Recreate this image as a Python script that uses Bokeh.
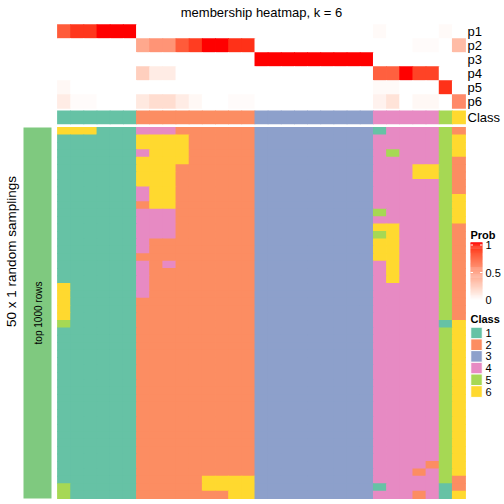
import numpy as np
from bokeh.plotting import figure
from bokeh.models import Range1d, ColumnDataSource, LinearColorMapper
from bokeh.transform import transform
from bokeh.embed import file_html
from bokeh.resources import INLINE
from bokeh.core.properties import value

# ---------------- data ----------------
title = "membership heatmap, k = 6"
prob_names = ["p1", "p2", "p3", "p4", "p5", "p6"]
col_class = [1] * 6 + [2] * 9 + [3] * 9 + [4] * 5 + [5] + [6]

p1 = [0.8, 0.92, 0.92, 1, 1, 1] + [0] * 9 + [0] * 9 + [0.03, 0, 0, 0, 0] + [0.03] + [0]
p2 = [0] * 6 + [0.45, 0.55, 0.55, 0.8, 0.9, 1, 1, 0.93, 0.93] + [0] * 9 + [0, 0, 0, 0.02, 0.02] + [0] + [0.35]
p3 = [0] * 6 + [0] * 9 + [1] * 9 + [0] * 5 + [0] + [0]
p4 = [0] * 6 + [0.25, 0.1, 0.1, 0, 0, 0, 0, 0, 0] + [0] * 9 + [0.78, 0.78, 1, 0.88, 0.88] + [0] + [0]
p5 = [0.04, 0, 0, 0, 0, 0] + [0] * 9 + [0] * 9 + [0.03, 0.03, 0, 0, 0] + [0.93] + [0]
p6 = [0.1, 0.02, 0.02, 0, 0, 0] + [0.12, 0.18, 0.18, 0.1, 0.04, 0, 0, 0.02, 0.02] + [0] * 9 + [0.07, 0.15, 0, 0.04, 0.04] + [0] + [0.6]
probs = [p1, p2, p3, p4, p5, p6]

# 50 random samplings x 31 samples (class label of each cell)
sampling_rows = [
    "666111" "444222222" "333333333" "14444" "5" "2",
    "111111" "666622222" "333333333" "44444" "5" "6",
    "111111" "666622222" "333333333" "44444" "5" "6",
    "111111" "466622222" "333333333" "45444" "5" "6",
    "111111" "666622222" "333333333" "44444" "5" "2",
    "111111" "666222222" "333333333" "44466" "5" "2",
    "111111" "666222222" "333333333" "44466" "5" "2",
    "111111" "666222222" "333333333" "44444" "5" "2",
    "111111" "466222222" "333333333" "44444" "5" "2",
    "111111" "466222222" "333333333" "44444" "5" "6",
    "111111" "266222222" "333333333" "44444" "5" "6",
    "111111" "444222222" "333333333" "54444" "5" "6",
    "111111" "444222222" "333333333" "44444" "5" "6",
    "111111" "444222222" "333333333" "66444" "5" "2",
    "111111" "444222222" "333333333" "56444" "5" "2",
    "111111" "422222222" "333333333" "66444" "5" "2",
    "111111" "422222222" "333333333" "66444" "5" "2",
    "111111" "222222222" "333333333" "66444" "5" "2",
    "111111" "424222222" "333333333" "46444" "5" "2",
    "111111" "422222222" "333333333" "46444" "5" "2",
    "111111" "422222222" "333333333" "46444" "5" "2",
    "611111" "422222222" "333333333" "44444" "5" "2",
    "611111" "422222222" "333333333" "44444" "5" "2",
    "611111" "222222222" "333333333" "44444" "5" "2",
    "611111" "222222222" "333333333" "44444" "5" "2",
    "611111" "222222222" "333333333" "44444" "5" "2",
    "511111" "222222222" "333333333" "44444" "1" "6",
] + ["111111" "222222222" "333333333" "44444" "5" "6"] * 18 + [
    "111111" "222222222" "333333333" "44442" "5" "6",
    "111111" "222222222" "333333333" "44424" "5" "6",
    "111111" "222226666" "333333333" "44444" "5" "2",
    "511111" "222226666" "333333333" "14444" "1" "2",
    "511111" "222222266" "333333333" "44424" "1" "6",
]

class_labels = ["1", "2", "3", "4", "5", "6"]
class_colors = ["#66C2A5", "#FC8D62", "#8DA0CB", "#E78AC3", "#A6D854", "#FFD92F"]
legend_ticks = [0, 0.5, 1]

# ---------------- styling helpers ----------------
def lab_palette(n):
    def lin(c):
        c = c / 255.0
        return c / 12.92 if c <= 0.04045 else ((c + 0.055) / 1.055) ** 2.4
    def gam(c):
        c = 12.92 * c if c <= 0.0031308 else 1.055 * c ** (1 / 2.4) - 0.055
        return min(255, max(0, round(c * 255)))
    M = np.array([[0.4124, 0.3576, 0.1805], [0.2126, 0.7152, 0.0722], [0.0193, 0.1192, 0.9505]])
    Mi = np.linalg.inv(M)
    wp = M @ np.array([1.0, 1.0, 1.0])
    def f(t):
        return t ** (1 / 3) if t > 216 / 24389 else (24389 / 27 * t + 16) / 116
    def fi(t):
        return t ** 3 if t ** 3 > 216 / 24389 else (116 * t - 16) / (24389 / 27)
    def to_lab(rgb):
        xyz = M @ np.array([lin(c) for c in rgb]) / wp
        fx, fy, fz = [f(t) for t in xyz]
        return np.array([116 * fy - 16, 500 * (fx - fy), 200 * (fy - fz)])
    def from_lab(lab):
        L, a, b = lab
        fy = (L + 16) / 116
        fx = fy + a / 500
        fz = fy - b / 200
        xyz = np.array([fi(fx), fi(fy), fi(fz)]) * wp
        rgb = Mi @ xyz
        return "#%02x%02x%02x" % tuple(gam(max(0, c)) for c in rgb)
    w = to_lab((255, 255, 255))
    r = to_lab((255, 0, 0))
    return [from_lab(w + (r - w) * t) for t in np.linspace(0, 1, n)]

palette = lab_palette(256)
mapper = LinearColorMapper(palette=palette, low=0, high=1)
cmap = dict(zip(class_labels, class_colors))

# ---------------- layout (page px) ----------------
X0, X1 = 57.0, 465.0
ncol = len(col_class)
cw = (X1 - X0) / ncol
TOP0, TOPH = 24.0, 14.0
CLS0, CLSH = 110.0, 13.7
MAIN0, MAIN1 = 127.0, 498.0
nrow = len(sampling_rows)
rh = (MAIN1 - MAIN0) / nrow
OV = 0.8  # overlap to hide anti-aliasing seams

p = figure(width=504, height=504, output_backend="svg", toolbar_location=None,
           x_range=Range1d(0, 504), y_range=Range1d(504, 0),
           x_axis_location=None, y_axis_location=None, min_border=0)
p.grid.visible = False
p.outline_line_color = None
p.background_fill_color = "white"
p.border_fill_color = "white"

# probability rows
xs, ys, vs = [], [], []
for k, row in enumerate(probs):
    for i, v in enumerate(row):
        xs.append(X0 + cw * (i + 0.5))
        ys.append(TOP0 + TOPH * (k + 0.5))
        vs.append(v)
p.rect(x="x", y="y", width=cw + OV, height=TOPH + 0.3, source=ColumnDataSource(dict(x=xs, y=ys, v=vs)),
       fill_color=transform("v", mapper), line_color=None)

# class row
p.rect(x=[X0 + cw * (i + 0.5) for i in range(ncol)], y=CLS0 + CLSH / 2, width=cw + OV, height=CLSH,
       fill_color=[cmap[str(c)] for c in col_class], line_color=None)

# main sampling matrix
mx, my, mc = [], [], []
for r, row in enumerate(sampling_rows):
    for i, ch in enumerate(row):
        mx.append(X0 + cw * (i + 0.5))
        my.append(MAIN0 + rh * (r + 0.5))
        mc.append(cmap[ch])
p.rect(x=mx, y=my, width=cw + OV, height=rh + OV, fill_color=mc, line_color=None)

# left annotation bar
p.rect(x=37, y=(MAIN0 + MAIN1) / 2, width=28, height=MAIN1 - MAIN0, fill_color="#7FC97F", line_color=None)
FONT = value("Liberation Sans")
p.text(x=[37.5], y=[(MAIN0 + MAIN1) / 2], text=["top 1000 rows"], angle=np.pi / 2,
       text_font=FONT, text_font_size="10px", text_align="center", text_baseline="middle")
p.text(x=[11], y=[251], text=["50 x 1 random samplings"], angle=np.pi / 2,
       text_font=FONT, text_font_size="13.5px", text_align="center", text_baseline="middle")

# title
p.text(x=[(X0 + X1) / 2], y=[12], text=[title], text_font=FONT, text_font_size="13px",
       text_align="center", text_baseline="middle")

# row labels
lab_y = [TOP0 + TOPH * (k + 0.5) for k in range(len(prob_names))] + [CLS0 + CLSH / 2 + 0.5]
p.text(x=[467] * len(lab_y), y=lab_y, text=prob_names + ["Class"], text_font=FONT,
       text_font_size="13px", text_align="left", text_baseline="middle")

# Prob legend
p.text(x=[470], y=[234], text=["Prob"], text_font=FONT, text_font_size="11px",
       text_font_style="bold", text_align="left", text_baseline="middle")
CB0, CB1 = 243.0, 300.0
grad = np.linspace(0, 1, 60)
p.rect(x=476, y=[CB1 - (CB1 - CB0) * (g + 0.5 / 60) for g in grad], width=12, height=(CB1 - CB0) / 60 + 0.4,
       fill_color=[palette[int(round(g * 255))] for g in grad], line_color=None)
TY = lambda t: 299.5 - 55 * t
p.segment(x0=[470, 479.5, 470, 479.5], x1=[472.5, 482, 472.5, 482],
          y0=[TY(1), TY(1), TY(0.5), TY(0.5)], y1=[TY(1), TY(1), TY(0.5), TY(0.5)],
          line_color="white", line_width=1)
p.text(x=[485] * 3, y=[TY(t) for t in legend_ticks], text=[("%g" % t) for t in legend_ticks],
       text_font=FONT, text_font_size="11px", text_align="left", text_baseline="middle")

# Class legend
p.text(x=[470], y=[318], text=["Class"], text_font=FONT, text_font_size="11px",
       text_font_style="bold", text_align="left", text_baseline="middle")
LB0, LBH = 326.7, 11.7
p.rect(x=476, y=[LB0 + LBH * (j + 0.5) for j in range(len(class_labels))], width=11.5, height=LBH,
       fill_color=class_colors, line_color="white", line_width=1)
p.text(x=[485] * len(class_labels), y=[LB0 + LBH * (j + 0.5) for j in range(len(class_labels))],
       text=class_labels, text_font=FONT, text_font_size="11px", text_align="left", text_baseline="middle")

open("out.html", "w").write(file_html(p, INLINE))
